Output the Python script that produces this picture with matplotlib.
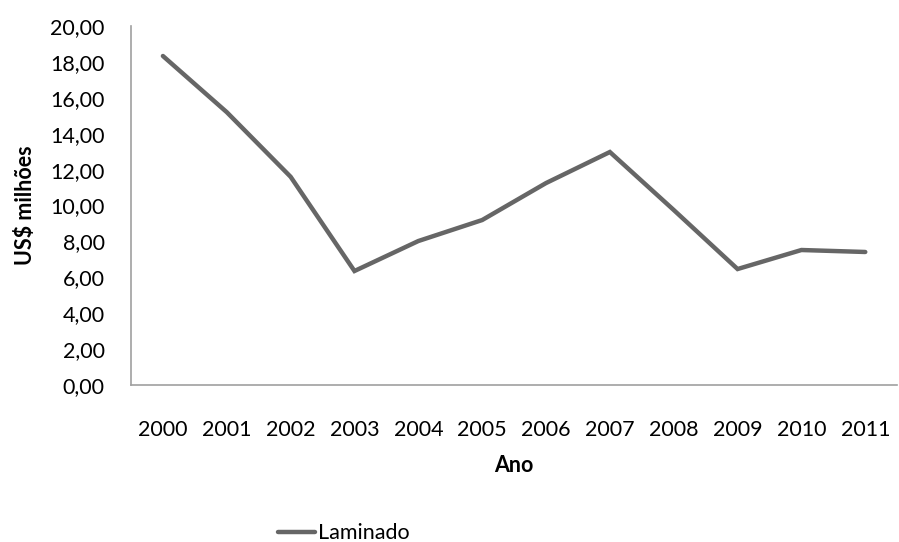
import matplotlib
matplotlib.use("Agg")
import matplotlib.pyplot as plt
from matplotlib.ticker import FuncFormatter, MultipleLocator

# annual values, US$ millions
anos = ['2000', '2001', '2002', '2003', '2004', '2005',
        '2006', '2007', '2008', '2009', '2010', '2011']
laminado = [18.33, 15.20, 11.60, 6.35, 8.02, 9.19,
            11.25, 12.98, 9.75, 6.46, 7.52, 7.41]

plt.rcParams['font.family'] = ['Lato', 'DejaVu Sans']
FS = 15.5

fig = plt.figure(figsize=(8.99, 5.42), dpi=100)
ax = fig.add_axes([0.1457, 0.2897, 0.8523, 0.6623])

x = list(range(len(anos)))
ax.plot(x, laminado, color='#666666', linewidth=3.2, solid_capstyle='round',
        solid_joinstyle='miter', label='Laminado')

ax.set_xlim(-0.5, len(anos) - 0.5)
ax.set_ylim(0, 20)
ax.yaxis.set_major_locator(MultipleLocator(2))
ax.yaxis.set_major_formatter(FuncFormatter(lambda v, p: f'{v:.2f}'.replace('.', ',')))
ax.set_xticks(x)
ax.set_xticklabels(anos)

for side in ('top', 'right'):
    ax.spines[side].set_visible(False)
for side in ('left', 'bottom'):
    ax.spines[side].set_color('#a0a0a0')
    ax.spines[side].set_linewidth(1.2)

ax.tick_params(axis='both', length=0, labelsize=FS, colors='black')
ax.tick_params(axis='y', pad=19)
ax.tick_params(axis='x', pad=25)

ax.set_xlabel('Ano', fontsize=FS, fontweight='bold', labelpad=11)
ax.set_ylabel('US$ milhões', fontsize=FS, fontweight='bold', labelpad=10)

fig.legend(loc='center', bbox_to_anchor=(0.382, 0.016), frameon=False,
           fontsize=FS, handlelength=1.75, handletextpad=0.1)

fig.savefig('out.png', dpi=100)
plt.close(fig)
